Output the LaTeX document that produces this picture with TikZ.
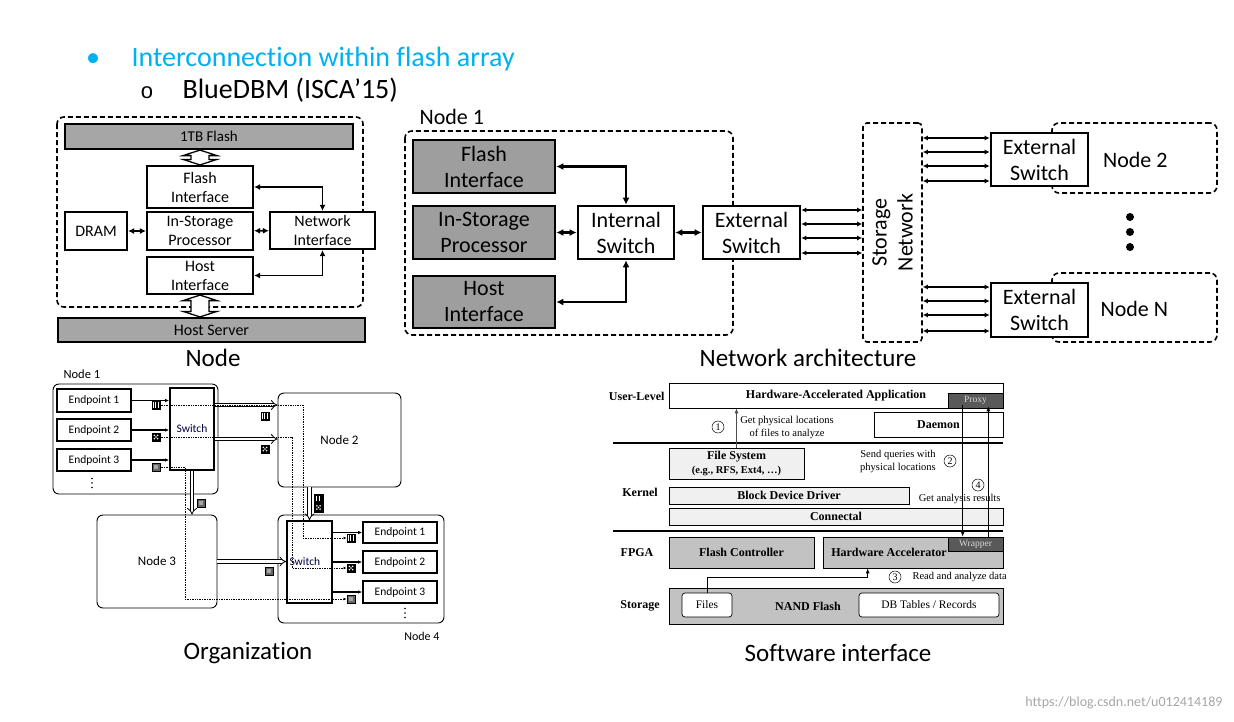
\documentclass[tikz,border=0pt]{standalone}
\usepackage{fontspec}
\setmainfont{Carlito}[Ligatures=NoCommon]
\newfontfamily\timesfont{Liberation Serif}
\newfontfamily\arialfont{Liberation Sans}
\usetikzlibrary{arrows.meta,calc,positioning}

\definecolor{titlecyan}{RGB}{0,176,240}
\definecolor{bargray}{RGB}{166,166,166}
\definecolor{blockgray}{RGB}{158,158,158}
\definecolor{darkbox}{RGB}{89,89,89}

\newcommand{\fs}[1]{\fontsize{#1}{\dimexpr #1pt*6/5\relax}\selectfont}

% outlined up/down arrow between two points (top, bottom)
\newcommand{\bigbiarrow}[2]{%
  \draw[line width=1.3pt, fill=white, line join=miter] (#1) -- ($(#1)+(17,5.5)$) -- ($(#1)+(9,5.5)$)
    -- ($(#2)+(9,-5.5)$) -- ($(#2)+(17,-5.5)$) -- (#2) -- ($(#2)+(-17,-5.5)$) -- ($(#2)+(-9,-5.5)$)
    -- ($(#1)+(-9,5.5)$) -- ($(#1)+(-17,5.5)$) -- cycle;}

\begin{document}
\begin{tikzpicture}[x=1pt,y=-1pt]
        \useasboundingbox (0,0) rectangle (1234,721);
        \tikzstyle{caption}=[font=\fs{25}]
        \tikzstyle{nbox}=[draw, line width=2.2pt, fill=white, align=center, inner sep=0pt, font=\fontsize{16}{19}\selectfont]
        \tikzstyle{nbar}=[nbox, fill=bargray]
        \tikzstyle{nlink}=[line width=1.8pt, <->, >={Latex[length=6pt,width=6pt]}]
        \tikzstyle{abox}=[draw, line width=2.6pt, fill=white, align=center, inner sep=0pt, font=\fontsize{22}{26}\selectfont]
        \tikzstyle{agray}=[abox, fill=blockgray]
        \tikzstyle{dbox}=[draw, line width=1.6pt, dash pattern=on 5pt off 3pt, rounded corners=7pt]
        \tikzstyle{alink}=[line width=2.2pt, <->, >={Latex[length=7pt,width=7pt]}]
        \tikzstyle{multi}=[line width=1.4pt, <->, >={Latex[length=5pt,width=5pt]}]
        \tikzstyle{onode}=[draw, rounded corners=6pt, line width=0.9pt, inner sep=0pt, font=\fs{13}]
        \tikzstyle{ept}=[draw, line width=1.8pt, fill=white, inner sep=0pt, font=\fs{11.5}]
        \tikzstyle{osw}=[ept, text=black!75!blue]
        \tikzstyle{olink}=[line width=1.1pt, ->, >={Latex[length=4pt,width=3.5pt]}]
        \tikzstyle{fat}=[double, double distance=2.6pt, line width=0.8pt, -{Implies}]
        \tikzstyle{dots}=[densely dotted, line width=0.7pt, ->, >={Latex[length=3pt,width=3pt]}]
        \tikzstyle{icon}=[draw=black, fill=black, line width=0.5pt, minimum size=8.5pt, inner sep=0pt]
        \tikzstyle{iconA}=[icon, path picture={
            \fill[white] ($(path picture bounding box.center)+(-2.6,-2.6)$) rectangle +(5.2,5.2);
            \foreach \i in {-1.3,0,1.3}
                \draw[black, line width=0.5pt] ($(path picture bounding box.center)+(\i,-2.6)$) -- +(0,5.2);}]
        \tikzstyle{iconB}=[icon, path picture={
            \foreach \a/\b in {-1.6/-1.6,1.6/-1.6,-1.6/1.6,1.6/1.6,0/0}
                \fill[white] ($(path picture bounding box.center)+(\a,\b)$) circle (0.9pt);}]
        \tikzstyle{iconC}=[icon, fill=black!60, path picture={
            \fill[black!35] ($(path picture bounding box.center)+(-2,-2)$) rectangle +(4,4);}]
        \tikzstyle{swbox}=[draw, line width=0.7pt, inner sep=0pt, font=\timesfont\bfseries\fs{12}]
        \tikzstyle{swdark}=[swbox, fill=darkbox, text=white!85!black, font=\timesfont\fs{9.5}]
        \tikzstyle{swlabel}=[font=\timesfont\bfseries\fs{12}]
        \tikzstyle{swtext}=[font=\timesfont\fontsize{10.5}{12.5}\selectfont, align=center]
        \tikzstyle{num}=[circle, draw, line width=0.5pt, minimum size=12pt, inner sep=0pt, font=\timesfont\fs{10}]
        \tikzstyle{swarrow}=[line width=0.8pt, ->, >={Latex[length=5pt,width=4pt]}]

        % Draw the slide heading
        \node[anchor=base, text=titlecyan, font=\fs{28}] (bul1) at (93,66) {•};
        \node[anchor=base west, text=titlecyan, font=\fs{28}] (title) at (128,66) {Interconnection within flash array};
        \node[anchor=base, font=\arialfont\fs{22}] (bul2) at (147,98) {o};
        \node[anchor=base west, font=\fs{28}] (sub) at (179,98) {BlueDBM (ISCA’15)};

        % Draw the node diagram
        \draw[dbox] (57,117) rectangle (363,307);
        \node[nbar, font=\fs{15}, minimum width=288, minimum height=25] (flash) at (209,136.5) {1TB Flash};
        \node[nbox, minimum width=106, minimum height=42] (fi) at (200,187) {Flash\\Interface};
        \node[nbox, minimum width=106, minimum height=38] (isp) at (200,231) {In-Storage\\Processor};
        \node[nbox, minimum width=106, minimum height=37] (hi) at (200,275.5) {Host\\Interface};
        \node[nbox, minimum width=62, minimum height=38] (dram) at (96,231) {DRAM};
        \node[nbox, minimum width=105, minimum height=37] (ni) at (322.5,230.5) {Network\\Interface};
        \node[nbar, minimum width=307, minimum height=24] (host) at (211.5,330) {Host Server};
        \coordinate (ft) at (fi.north |- flash.south);
        \coordinate (hb) at (hi.south |- host.north);
        \bigbiarrow{ft}{fi.north}
        \bigbiarrow{hi.south}{hb}
        \draw[nlink] (dram) -- (isp);
        \draw[nlink] (isp) -- (ni);
        \draw[nlink] (fi.east) -| (ni.north);
        \draw[nlink] (hi.east) -| (ni.south);
        \node[caption] (cap1) at (213,358) {Node};

        % Draw the network architecture
        \node[anchor=base west, font=\fs{22}] (n1lab) at (416,124) {Node 1};
        \draw[dbox] (405,131) rectangle (733,335);
        \node[agray, minimum width=142, minimum height=53] (nfi) at (484,166.5) {Flash\\Interface};
        \node[agray, minimum width=142, minimum height=53] (nisp) at (484,232.5) {In-Storage\\Processor};
        \node[agray, minimum width=142, minimum height=52] (nhi) at (484,302) {Host\\Interface};
        \node[abox, minimum width=96, minimum height=53] (isw) at (626,232.5) {Internal\\Switch};
        \node[abox, minimum width=97, minimum height=53] (esw) at (751.5,232.5) {External\\Switch};
        \draw[alink] (nfi.east) -| (isw.north);
        \draw[alink] (nisp) -- (isw);
        \draw[alink] (isw) -- (esw);
        \draw[alink] (nhi.east) -| (isw.south);

        \node[dbox, rounded corners=4pt, minimum width=59, minimum height=219, inner sep=0pt] (sn) at (892.5,232.5) {};
        \node[rotate=90, align=center, font=\fontsize{22}{26}\selectfont] (snt) at (sn.center) {Storage\\Network};
        \foreach \dy in {-22.5,-8.5,5.5,20.5}
            \draw[multi] ($(esw.east)+(0,\dy)$) -- ($(esw.east -| sn.west)+(0,\dy)$);

        \node[dbox, minimum width=165, minimum height=70, inner sep=0pt] (n2) at (1134.5,158) {};
        \node[abox, minimum width=97, minimum height=53] (esw2) at (1039.5,159.5) {External\\Switch};
        \node[font=\fs{22}] (n2lab) at ($(esw2.east)+(46,0)$) {Node 2};
        \foreach \dy in {-21.5,-7.5,6.5,21.5}
            \draw[multi] ($(sn.east |- esw2.west)+(0,\dy)$) -- ($(esw2.west)+(0,\dy)$);

        \foreach \yy in {217,232,247}
            \fill (1130,\yy) circle (4pt);

        \node[dbox, minimum width=165, minimum height=69, inner sep=0pt] (nN) at (1134.5,307.5) {};
        \node[abox, minimum width=97, minimum height=54] (eswN) at (1039.5,310) {External\\Switch};
        \node[font=\fs{22}] (nNlab) at ($(eswN.east)+(45,-1)$) {Node N};
        \foreach \dy in {-23,-9,5,21}
            \draw[multi] ($(sn.east |- eswN.west)+(0,\dy)$) -- ($(eswN.west)+(0,\dy)$);
        \node[caption] (cap2) at (808,358) {Network architecture};

        % Draw the organization
        \node[anchor=base west, font=\fs{12.5}] (o1lab) at (60,378) {Node 1};
        \node[onode, minimum width=165, minimum height=110] (o1) at (135.5,439) {};
        \node[ept, minimum width=74, minimum height=23] (ep1) at (94,400.5) {Endpoint 1};
        \node[ept, minimum width=74, minimum height=22] (ep2) at (94,430) {Endpoint 2};
        \node[ept, minimum width=74, minimum height=22] (ep3) at (94,460) {Endpoint 3};
        \foreach \yy in {478.5,483,487.5}
            \fill (92,\yy) circle (0.9pt);
        \node[osw, minimum width=44, minimum height=82] (sw1) at (192,429) {Switch};
        \foreach \k in {1,2,3}
            \draw[olink] (ep\k.east) -- (ep\k.east -| sw1.west);

        \node[onode, minimum width=123, minimum height=94] (o2) at (339.5,440) {Node 2};
        \node[onode, minimum width=120, minimum height=93] (o3) at (157,561.5) {Node 3};
        \node[onode, minimum width=166, minimum height=108] (o4) at (361,569) {};
        \node[anchor=base east, font=\fs{12}] (o4lab) at (443,640) {Node 4};
        \node[osw, minimum width=45, minimum height=82, text width=40pt, align=left, inner xsep=1pt] (sw4) at (309.5,562) {Switch};
        \node[ept, minimum width=74, minimum height=21] (fp1) at (400,532.5) {Endpoint 1};
        \node[ept, minimum width=74, minimum height=22] (fp2) at (400,562) {Endpoint 2};
        \node[ept, minimum width=74, minimum height=22] (fp3) at (400,592) {Endpoint 3};
        \foreach \yy in {608.5,613,617.5}
            \fill (405,\yy) circle (0.9pt);
        \foreach \k in {1,2,3}
            \draw[olink] (fp\k.west -| sw4.east) -- (fp\k.west);

        % links between the nodes
        \draw[fat] ($(sw1.east)+(0,-24)$) -- ($(sw1.east -| o2.west)+(0,-24)$);
        \draw[fat] ($(sw1.east)+(0,10)$) -- ($(sw1.east -| o2.west)+(0,10)$);
        \draw[fat] (sw1.south) -- (sw1.south |- o3.north);
        \draw[fat] (sw4.north |- o2.south) -- (sw4.north);
        \draw[fat] (o3.east) -- (o3.east -| sw4.west);

        % packet tags
        \node[iconA] (iA1) at (156,405) {};
        \node[iconB] (iB1) at (156,437) {};
        \node[iconC] (iC1) at (156,467) {};
        \node[iconA] (iA2) at (265,416) {};
        \node[iconB] (iB2) at (265,449) {};
        \node[iconC] (iC2) at (201,503) {};
        \node[iconA] (iA3) at (318.5,498.5) {};
        \node[iconB] (iB3) at (318.5,507.5) {};
        \node[iconC] (iC3) at (269,571) {};
        \node[iconA] (iA4) at (351,538) {};
        \node[iconB] (iB4) at (351,568) {};
        \node[iconC] (iC4) at (351,599) {};

        % paths of the packets
        \coordinate (dA) at (303,0);
        \coordinate (dB) at (292,0);
        \coordinate (dC) at (185,0);
        \draw[dots] (iA1.east) -| (dA |- iA4.west) -- (iA4.west);
        \draw[dots] (iB1.east) -| (dB |- iB4.west) -- (iB4.west);
        \draw[dots] (iC1.east) -| (dC |- iC4.west) -- (iC4.west);
        \node[caption] (cap3) at (248,653) {Organization};

        % Draw the software interface
        \node[swbox, fill=white, minimum width=334, minimum height=25] (haa) at (836,395.5) {Hardware-Accelerated Application};
        \node[swdark, minimum width=55, minimum height=15] (proxy) at (975.5,400.5) {Proxy};
        \node[swbox, fill=white, minimum width=129, minimum height=25] (daemon) at (938.5,424.5) {Daemon};
        \draw[line width=2.6pt] (613,443) -- (1003,443);
        \node[swbox, fill=black!6, minimum width=135, minimum height=31, align=center] (fsys) at (736.5,463.5) {File System\\[-1pt]{\fs{10.5}(e.g., RFS, Ext4, …)}};
        \node[swbox, fill=black!6, minimum width=240, minimum height=17] (bdd) at (789,495.5) {Block Device Driver};
        \node[swbox, fill=black!6, minimum width=334, minimum height=17] (conn) at (836,516.5) {Connectal};
        \draw[line width=2.6pt] (613,531) -- (1003,531);
        \node[swbox, fill=black!24, minimum width=145, minimum height=31] (fc) at (741.5,552.5) {Flash Controller};
        \node[swbox, fill=black!24, minimum width=180, minimum height=31,
              label={[font=\timesfont\bfseries\fs{12}, xshift=-24pt]center:Hardware Accelerator}] (ha) at (913,552.5) {};
        \node[swdark, minimum width=55, minimum height=14] (wrapper) at (975.5,544) {Wrapper};
        \node[swbox, fill=black!24, minimum width=334, minimum height=36,
              label={[font=\timesfont\bfseries\fs{12}, xshift=-28pt]center:NAND Flash}] (nand) at (836,606) {};
        \node[swbox, fill=white, rounded corners=3pt, minimum width=50, minimum height=24, font=\timesfont\fs{11.5}] (files) at (707,605) {Files};
        \node[swbox, fill=white, rounded corners=3pt, minimum width=140, minimum height=24, font=\timesfont\fs{11.5}] (dbt) at (929,605) {DB Tables / Records};

        % layer names
        \node[swlabel, anchor=east] (lu) at (668,396) {User-Level};
        \node[swlabel] (lk) at (640,492) {Kernel};
        \node[swlabel] (lf) at (637,553) {FPGA};
        \node[swlabel] (ls) at (640,606) {Storage};

        % steps
        \draw[swarrow, black!70] (fsys.north) -- (fsys.north |- haa.south);
        \node[num] (s1) at (718,427) {1};
        \node[swtext] (t1) at (787,427.5) {Get physical locations\\of files to analyze};
        \node[swtext] (t2) at (898,461.5) {Send queries with\\physical locations};
        \node[num] (s2) at (950,461) {2};
        \node[num] (s4) at (978,485) {4};
        \node[swtext, anchor=east] (t4) at (1004,499) {Get analysis results};
        \draw[swarrow] ($(proxy.south west)+(15,-3)$) -- ($(wrapper.north west)+(15,0)$);
        \draw[swarrow] ($(wrapper.north east)+(-15,0)$) -- ($(proxy.south east)+(-15,-2)$);
        \draw[swarrow] (files.north) |- ($(ha.south west)+(45,9)$) -- ($(ha.south west)+(45,0)$);
        \node[num] (s3) at (895,577) {3};
        \node[swtext, anchor=west] (t3) at (909,577) {Read and analyze data};
        \node[caption] (cap4) at (838,653) {Software interface};

        % watermark
        \node[anchor=east, text=black!35, font=\fs{14}] (wm) at (1226,703) {https://blog.csdn.net/u012414189};
\end{tikzpicture}
\end{document}
